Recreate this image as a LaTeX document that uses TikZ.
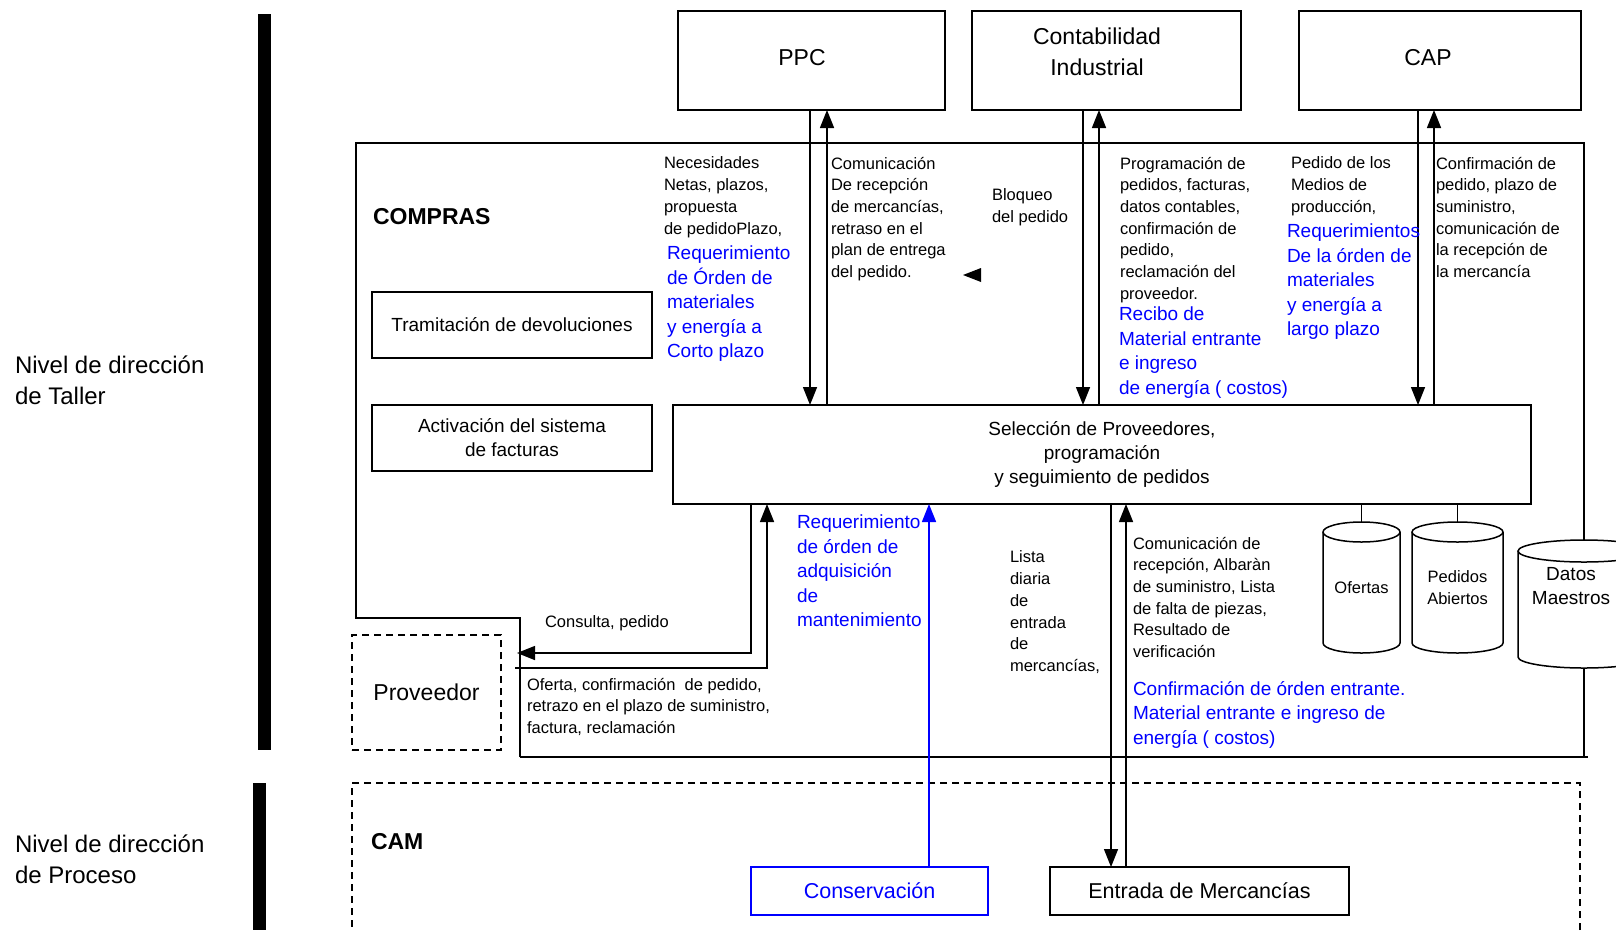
\documentclass[tikz,border=0pt]{standalone}
\usepackage{fontspec}
\setmainfont{Liberation Sans}
\usetikzlibrary{arrows.meta}
\definecolor{refblue}{RGB}{0,0,255}
\newcommand\fsSmall{\fontsize{16.5}{21.7}\selectfont}
\newcommand\fsBlue{\fontsize{19}{24.5}\selectfont}
\newcommand\fsMid{\fontsize{19}{24}\selectfont}
\newcommand\fsBoxText{\fontsize{21.5}{26}\selectfont}
\newcommand\fsBig{\fontsize{23}{31}\selectfont}
\newcommand\fsLevel{\fontsize{24}{31}\selectfont}
\newcommand\fsHead{\fontsize{23}{26}\selectfont\bfseries}

\begin{document}
\begin{tikzpicture}[x=1pt,y=-1pt,
  every node/.style={inner sep=0pt,outer sep=0pt},
  ln/.style={line width=1.5pt},
  boxn/.style={draw,line width=1.5pt,anchor=north west,align=center},
  dashn/.style={draw,line width=1.4pt,dash pattern=on 7pt off 5pt,anchor=north west,align=center},
  arr/.style={line width=1.5pt,-{Triangle[length=18pt,width=14pt]}},
  txt/.style={anchor=north west,align=left,font=\fsSmall},
  btxt/.style={anchor=north west,align=left,font=\fsBlue,text=refblue},
]
\useasboundingbox (0,0) rectangle (1616,930);
\clip (0,0) rectangle (1616,930);

% management levels
\fill (258,14) rectangle (271,750);
\fill (253,783) rectangle (266,930);
\node[anchor=north west,align=left,font=\fsLevel] (taller) at (15,356) {Nivel de dirección\\de Taller};
\node[anchor=north west,align=left,font=\fsLevel] (proceso) at (15,835) {Nivel de dirección\\de Proceso};

% upper departments
\node[boxn,minimum width=267pt,minimum height=99pt] (ppc) at (678,11) {};
\node[font=\fsBig] (ppcTxt) at (802,58) {PPC};
\node[boxn,minimum width=269pt,minimum height=99pt] (cont) at (972,11) {};
\node[font=\fsBig,align=center] (contTxt) at (1097,52) {Contabilidad\\Industrial};
\node[boxn,minimum width=282pt,minimum height=99pt] (cap) at (1299,11) {};
\node[font=\fsBig] (capTxt) at (1428,58) {CAP};

% purchasing area
\node[anchor=west,font=\fsHead] (compras) at (373,217) {COMPRAS};
\node[boxn,minimum width=280pt,minimum height=66pt,font=\fsMid] (tram) at (372,292) {Tramitación de devoluciones};
\node[boxn,minimum width=280pt,minimum height=66pt,font=\fsMid] (activ) at (372,405) {Activación del sistema\\de facturas};
\node[boxn,minimum width=858pt,minimum height=99pt,font=\fsMid] (sel) at (673,405) {Selección de Proveedores,\\programación\\y seguimiento de pedidos};

% data stores
\node[minimum width=77pt,minimum height=131pt,anchor=north west,font=\fsSmall] (ofertas) at (1323,522) {Ofertas};
\node[minimum width=91pt,minimum height=131pt,anchor=north west,font=\fsSmall,align=center] (pedidos) at (1412,522) {Pedidos\\Abiertos};
\node[minimum width=132pt,minimum height=128pt,anchor=north west] (datos) at (1518,540) {};
\node[font=\fsMid,align=center] (datosTxt) at (1571,586) {Datos\\Maestros};

\draw[ln] (1323,532) -- (1323,643) .. controls (1323,648.5) and (1340.25,653) .. (1361.5,653) .. controls (1382.75,653) and (1400,648.5) .. (1400,643) -- (1400,532);
\draw[ln] (1361.5,532) ellipse [x radius=38.5,y radius=10];
\draw[ln] (1412,532) -- (1412,643) .. controls (1412,648.5) and (1432.4,653) .. (1457.5,653) .. controls (1482.6,653) and (1503,648.5) .. (1503,643) -- (1503,532);
\draw[ln] (1457.5,532) ellipse [x radius=45.5,y radius=10];
\draw[ln] (1518,551) -- (1518,657) .. controls (1518,663) and (1547.6,668) .. (1584,668) .. controls (1620.4,668) and (1650,663) .. (1650,657) -- (1650,551);
\draw[ln] (1584,551) ellipse [x radius=66,y radius=11];

% outline of the purchasing area
\coordinate (cTL) at (356,143);
\coordinate (cTR) at (1584,143);
\coordinate (cStep) at (356,618);
\coordinate (cStepIn) at (520,618);
\coordinate (cBL) at (520,757);
\coordinate (cBR) at (1588,757);
\draw[ln] (cBL) -- (cStepIn) -- (cStep) -- (cTL) -- (cTR) -- (datos.north);
\draw[ln] (cBL) -- (cBR);
\draw[ln] (datos.south) -- (datos.south |- cBR);

% supplier and process level
\node[dashn,minimum width=149pt,minimum height=115pt,font=\fsBig] (prov) at (352,635) {Proveedor};
\node[dashn,minimum width=1228pt,minimum height=155pt] (cam) at (352,783) {};
\node[anchor=west,font=\fsHead] (camTxt) at (371,842) {CAM};
\node[boxn,draw=refblue,text=refblue,minimum width=237pt,minimum height=48pt,font=\fsBoxText] (cons) at (751,867) {Conservación};
\node[boxn,minimum width=299pt,minimum height=48pt,font=\fsBoxText] (entr) at (1050,867) {Entrada de Mercancías};

% flows to and from the upper departments
\draw[arr] ([xshift=-1.5pt]ppc.south) -- ([xshift=-1.5pt]ppc.south |- sel.north);
\draw[arr] ([xshift=15.5pt]ppc.south |- sel.north) -- ([xshift=15.5pt]ppc.south);
\draw[arr] ([xshift=-23.5pt]cont.south) -- ([xshift=-23.5pt]cont.south |- sel.north);
\draw[arr] ([xshift=-7.5pt]cont.south |- sel.north) -- ([xshift=-7.5pt]cont.south);
\draw[arr] ([xshift=-22pt]cap.south) -- ([xshift=-22pt]cap.south |- sel.north);
\draw[arr] ([xshift=-6pt]cap.south |- sel.north) -- ([xshift=-6pt]cap.south);
\fill (963,275) -- (981,268) -- (981,282) -- cycle;

% flows with the supplier
\coordinate (consEnd) at (517,653);
\coordinate (ofStart) at (515,668);
\draw[arr] ([xshift=-351pt]sel.south) |- (consEnd);
\draw[arr] (ofStart) -| ([xshift=-335pt]sel.south);

% flows with the process level
\draw[arr,refblue] ([xshift=59.5pt]cons.north) -- ([xshift=59.5pt]cons.north |- sel.south);
\draw[arr] ([xshift=-88.5pt]entr.north |- sel.south) -- ([xshift=-88.5pt]entr.north);
\draw[arr] ([xshift=-73.5pt]entr.north) -- ([xshift=-73.5pt]entr.north |- sel.south);

% links to the data stores
\draw[ln] (ofertas.north |- sel.south) -- (ofertas.north);
\draw[ln] (pedidos.north |- sel.south) -- (pedidos.north);

% flow labels
\node[txt] (tNec) at (664,157) {Necesidades\\Netas, plazos,\\propuesta\\de pedidoPlazo,};
\node[btxt] (tReqCorto) at (667,246) {Requerimiento\\de Órden de\\materiales\\y energía a\\Corto plazo};
\node[txt] (tCom) at (831,157) {Comunicación\\De recepción\\de mercancías,\\retraso en el\\plan de entrega\\del pedido.};
\node[txt] (tBloq) at (992,189) {Bloqueo\\del pedido};
\node[txt] (tProg) at (1120,157) {Programación de\\pedidos, facturas,\\datos contables,\\confirmación de\\pedido,\\reclamación del\\proveedor.};
\node[btxt] (tRecibo) at (1119,307) {Recibo de\\Material entrante\\e ingreso\\de energía ( costos)};
\node[txt] (tPedMed) at (1291,157) {Pedido de los\\Medios de\\producción,};
\node[btxt] (tReqLargo) at (1287,224) {Requerimientos\\De la órden de\\materiales\\y energía a\\largo plazo};
\node[txt] (tConf) at (1436,157) {Confirmación de\\pedido, plazo de\\suministro,\\comunicación de\\la recepción de\\la mercancía};
\node[txt] (tConsulta) at (545,616) {Consulta, pedido};
\node[txt] (tOferta) at (527,678) {Oferta, confirmación~ de pedido,\\retrazo en el plazo de suministro,\\factura, reclamación};
\node[btxt] (tReqMant) at (797,515) {Requerimiento\\de órden de\\adquisición\\de\\mantenimiento};
\node[txt] (tLista) at (1010,551) {Lista\\diaria\\de\\entrada\\de\\mercancías,};
\node[txt] (tComRec) at (1133,537) {Comunicación de\\recepción, Albaràn\\de suministro, Lista\\de falta de piezas,\\Resultado de\\verificación};
\node[btxt] (tConfOrd) at (1133,681) {Confirmación de órden entrante.\\Material entrante e ingreso de\\energía ( costos)};
\end{tikzpicture}
\end{document}
